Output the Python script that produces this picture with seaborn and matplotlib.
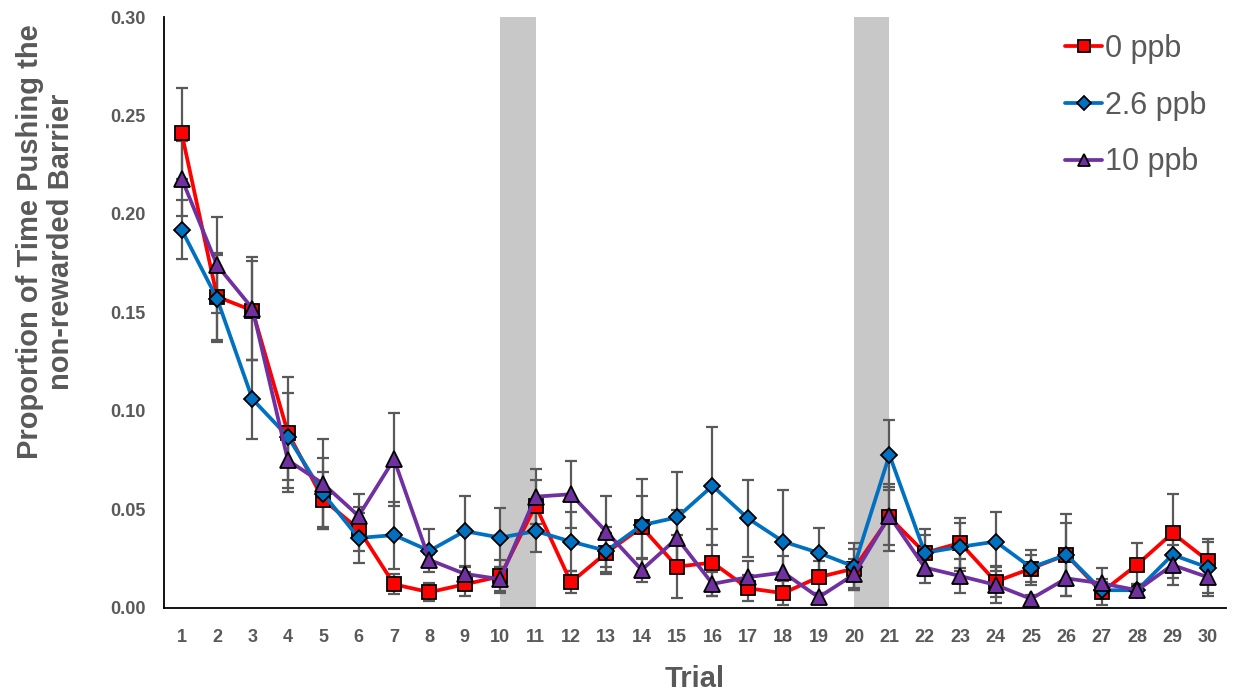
import numpy as np
import pandas as pd
import matplotlib
matplotlib.use("Agg")
import matplotlib.pyplot as plt
import seaborn as sns

trials = list(range(1, 31))
series_names = ["0 ppb", "2.6 ppb", "10 ppb"]

mean_0 = [0.241, 0.158, 0.151, 0.089, 0.055, 0.040, 0.012, 0.008, 0.012, 0.016,
          0.052, 0.013, 0.028, 0.041, 0.021, 0.023, 0.010, 0.0075, 0.0156, 0.020,
          0.046, 0.028, 0.033, 0.0134, 0.020, 0.027, 0.008, 0.022, 0.038, 0.024]
err_0 = [0.023, 0.022, 0.025, 0.028, 0.014, 0.011, 0.005, 0.0047, 0.006, 0.0085,
         0.013, 0.0056, 0.010, 0.016, 0.016, 0.017, 0.0065, 0.006, 0.008, 0.010,
         0.017, 0.012, 0.0127, 0.008, 0.0067, 0.016, 0.0067, 0.011, 0.020, 0.011]

mean_26 = [0.192, 0.157, 0.106, 0.087, 0.058, 0.0355, 0.037, 0.029, 0.039, 0.0357,
           0.039, 0.0337, 0.029, 0.042, 0.046, 0.062, 0.0455, 0.0337, 0.028, 0.021,
           0.0777, 0.028, 0.031, 0.0337, 0.0205, 0.027, 0.009, 0.009, 0.027, 0.0205]
err_26 = [0.015, 0.022, 0.020, 0.022, 0.018, 0.0125, 0.017, 0.011, 0.018, 0.015,
          0.0105, 0.015, 0.012, 0.0235, 0.023, 0.030, 0.0195, 0.026, 0.0127, 0.012,
          0.0177, 0.009, 0.012, 0.015, 0.009, 0.0207, 0.004, 0.003, 0.012, 0.0128]

mean_10 = [0.218, 0.174, 0.152, 0.075, 0.063, 0.0467, 0.0755, 0.0244, 0.0173, 0.0146,
           0.0565, 0.0577, 0.0387, 0.0193, 0.0354, 0.0122, 0.0156, 0.018, 0.0054, 0.017,
           0.0467, 0.0205, 0.0162, 0.0117, 0.0046, 0.015, 0.0125, 0.009, 0.0218, 0.0156]
err_10 = [0.019, 0.0245, 0.026, 0.016, 0.023, 0.011, 0.0237, 0.003, 0.004, 0.006,
          0.014, 0.017, 0.018, 0.006, 0.0145, 0.006, 0.008, 0.0083, 0.002, 0.008,
          0.0146, 0.008, 0.0085, 0.009, 0.002, 0.009, 0.0076, 0.003, 0.010, 0.0095]

y_ticks = [0.00, 0.05, 0.10, 0.15, 0.20, 0.25, 0.30]
shaded = [(10, 11), (20, 21)]

colors = {"0 ppb": "#FF0000", "2.6 ppb": "#0070C0", "10 ppb": "#7030A0"}
markers = {"0 ppb": "s", "2.6 ppb": "D", "10 ppb": "^"}
msizes = {"0 ppb": 10, "2.6 ppb": 8.5, "10 ppb": 11}

means = {"0 ppb": mean_0, "2.6 ppb": mean_26, "10 ppb": mean_10}
errs = {"0 ppb": err_0, "2.6 ppb": err_26, "10 ppb": err_10}

rows = []
for name in series_names:
    for t, m, e in zip(trials, means[name], errs[name]):
        rows.append({"Trial": t, "value": m, "err": e, "group": name})
df = pd.DataFrame(rows)

sns.set_theme(style="white")
plt.rcParams['font.family'] = ['Liberation Sans', 'DejaVu Sans']

fig = plt.figure(figsize=(12.33, 6.94), dpi=100)
ax = fig.add_axes([0.133, 0.124, 0.861, 0.8515])

for a, b in shaded:
    ax.axvspan(a, b, color="#C8C8C8", zorder=0, lw=0)

grey = "#595959"
for name in series_names:
    sub = df[df.group == name]
    ax.errorbar(sub["Trial"], sub["value"], yerr=sub["err"], fmt="none",
                ecolor=grey, elinewidth=1.6, capsize=4, capthick=1.6, zorder=2)

for i, name in enumerate(series_names):
    sub = df[df.group == name]
    sns.lineplot(data=sub, x="Trial", y="value", ax=ax, color=colors[name],
                 marker=markers[name], markersize=msizes[name],
                 markeredgecolor="black", markeredgewidth=1.3,
                 linewidth=2.7, label=name, zorder=3 + i)

ax.set_xlim(0.5, 30.5)
ax.set_ylim(0, 0.30)
ax.set_xticks(trials)
ax.set_xticklabels([str(t) for t in trials])
ax.set_yticks(y_ticks)
ax.set_yticklabels([f"{v:.2f}" for v in y_ticks])
ax.tick_params(axis="both", length=0, labelcolor=grey, labelsize=13)
ax.tick_params(axis="y", pad=13)
ax.tick_params(axis="x", pad=15)
for lab in ax.get_xticklabels() + ax.get_yticklabels():
    lab.set_fontweight("bold")

for s in ["top", "right"]:
    ax.spines[s].set_visible(False)
for s in ["left", "bottom"]:
    ax.spines[s].set_color("black")
    ax.spines[s].set_linewidth(1.3)

ax.set_xlabel("Trial", fontsize=21, fontweight="bold", color=grey, labelpad=14)
ax.set_ylabel("Proportion of Time Pushing the\nnon-rewarded Barrier", fontsize=21,
              fontweight="bold", color=grey, linespacing=1.15)
ax.yaxis.set_label_coords(-0.084, 0.62)

leg = ax.legend(loc="upper left", bbox_to_anchor=(0.849, 0.971), frameon=False,
                fontsize=22, handlelength=1.2, handletextpad=0.1, labelspacing=0.87,
                borderpad=0, borderaxespad=0, markerscale=0.8)
for t in leg.get_texts():
    t.set_color(grey)

fig.savefig("out.png", dpi=100)
